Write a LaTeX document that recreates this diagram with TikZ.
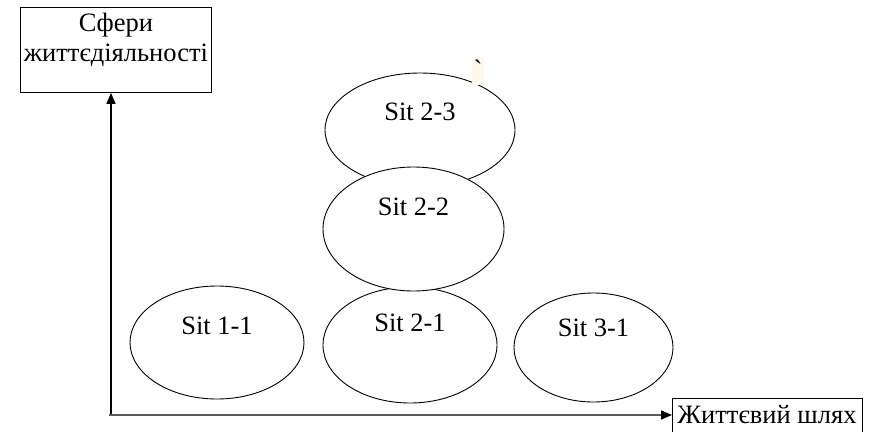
\documentclass[tikz,border=0pt]{standalone}
\usepackage{fontspec}
\setmainfont{Liberation Serif}
\usepackage{tikz}
\usetikzlibrary{ arrows.meta,      % For triangle tips
                 positioning,      % For easy node-relative placements
                 shapes.geometric, % For ellipse
               }

\tikzset{
  sit/.style={ellipse, draw, fill=white, inner sep=0pt, line width=0.9pt},
  sittext/.style={font=\fontsize{26.5}{30}\selectfont, inner sep=0pt},
  axisbox/.style={draw, line width=0.9pt, inner sep=0pt},
  axisline/.style={line width=1.6pt, -{Triangle[length=11pt,width=9pt,color=black]}},
}

\begin{document}
\begin{tikzpicture}[x=1pt, y=-1pt, font=\fontsize{26.5}{30}\selectfont]
    \useasboundingbox (0,0) rectangle (870,431);
    % axis boxes
    \node[axisbox, minimum width=191pt, minimum height=85pt, anchor=north west] (spheres) at (20,7) {};
    \node[sittext, align=center, below=6pt of spheres.north] (spherestext) {Сфери\\життєдіяльності};
    \node[axisbox, minimum width=190pt, minimum height=40pt, anchor=north west] (lifepath) at (672,398) {};
    \node[sittext] (lifetext) at (767,415) {Життєвий шлях};
    % situations
    \node[sit, minimum width=190pt, minimum height=114pt, label={[sittext, yshift=18pt]center:Sit 2-3}] (s23) at (420,130) {};
    \node[sit, minimum width=174pt, minimum height=116pt, label={[sittext, yshift=22pt]center:Sit 2-1}] (s21) at (410,345) {};
    \node[sit, minimum width=181pt, minimum height=124pt, label={[sittext, yshift=22pt]center:Sit 2-2}] (s22) at (413.5,229) {};
    \node[sit, minimum width=174pt, minimum height=113pt, label={[sittext, yshift=17pt]center:Sit 1-1}] (s11) at (217,342.5) {};
    \node[sit, minimum width=159pt, minimum height=109pt, label={[sittext, yshift=20pt]center:Sit 3-1}] (s31) at (593.5,347.5) {};
    % stray mark
    \node[fill={rgb,255:red,253;green,248;blue,236}, minimum width=12pt, minimum height=28pt, inner sep=0pt] (mark) at (478,71) {};
    \node[sittext, yshift=2pt] (marktext) at (mark) {\textasciigrave};
    % axes
    \coordinate (origin) at (111,415);
    \draw[axisline, draw=black] (origin) -- (spheres.south -| origin);
    \draw[axisline, draw={rgb,255:red,90;green,90;blue,90}] (109,415) -- (lifepath.west |- origin);
\end{tikzpicture}
\end{document}
